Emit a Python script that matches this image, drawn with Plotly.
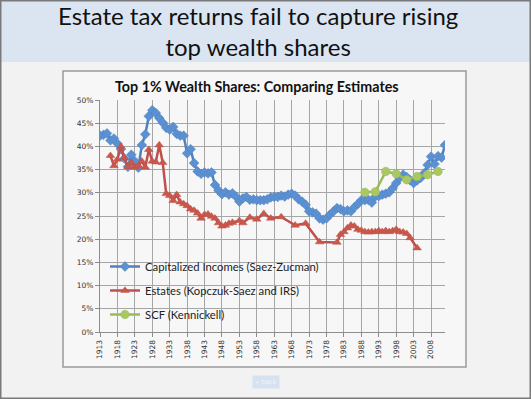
import plotly.graph_objects as go

# ---------------- data ----------------
blue_years = list(range(1913, 2013))
blue_vals = [
    42.3, 42.5, 42.8, 41.3, 41.7, 40.6, 39.4, 37.4, 35.6, 38.2,   # 1913-1922
    36.8, 35.4, 40.3, 42.6, 46.5, 47.8, 47.2, 46.1, 45.1, 44.0,   # 1923-1932
    43.6, 44.2, 42.7, 42.3, 42.3, 38.5, 39.4, 36.4, 34.6, 34.1,   # 1933-1942
    34.4, 34.2, 34.4, 31.7, 30.5, 29.7, 30.1, 29.6, 29.9, 29.2,   # 1943-1952
    28.1, 28.8, 29.1, 28.5, 28.6, 28.4, 28.4, 28.4, 28.6, 29.0,   # 1953-1962
    29.1, 29.1, 29.4, 29.2, 29.6, 29.8, 29.4, 28.6, 28.1, 27.4,   # 1963-1972
    26.0, 25.8, 25.5, 24.5, 24.2, 24.5, 25.3, 26.0, 26.7, 26.5,   # 1973-1982
    26.0, 26.2, 26.0, 26.9, 27.6, 28.4, 28.4, 28.5, 27.9, 29.2,   # 1983-1992
    29.3, 29.6, 29.8, 30.1, 31.0, 32.1, 33.2, 33.9, 33.4, 32.7,   # 1993-2002
    32.1, 32.7, 33.2, 34.2, 36.0, 37.8, 36.2, 37.9, 37.6, 40.3,   # 2003-2012
]

red_years = [
    1916, 1917, 1918, 1919, 1920, 1921, 1922, 1923, 1924, 1925,
    1926, 1927, 1928, 1929, 1930, 1931, 1932, 1933, 1934, 1935,
    1936, 1937, 1938, 1939, 1940, 1941, 1942, 1943, 1944, 1945,
    1946, 1947, 1948, 1949, 1950, 1951, 1953, 1954, 1956, 1958,
    1960, 1962, 1965, 1969, 1972, 1976, 1981, 1982, 1983, 1984,
    1985, 1986, 1987, 1988, 1989, 1990, 1991, 1992, 1993, 1994,
    1995, 1996, 1997, 1998, 1999, 2000, 2001, 2002, 2004,
]
red_vals = [
    38.0, 35.8, 37.2, 40.0, 37.5, 35.6, 36.5, 35.5, 35.8, 36.8,
    35.5, 39.3, 36.8, 36.6, 40.3, 36.5, 29.8, 29.4, 28.3, 29.6,
    28.0, 27.6, 27.2, 26.5, 26.2, 25.6, 24.5, 25.3, 25.4, 24.9,
    24.5, 23.5, 22.8, 23.0, 23.4, 23.6, 24.0, 23.5, 24.7, 24.3,
    25.5, 24.5, 24.8, 23.0, 23.4, 19.4, 19.3, 21.0, 21.6, 22.4,
    23.0, 22.8, 22.1, 21.9, 21.6, 21.5, 21.6, 21.6, 21.8, 21.6,
    21.8, 21.6, 21.8, 22.1, 21.6, 21.5, 21.2, 20.3, 18.1,
]

green_years = [1989, 1992, 1995, 1998, 2001, 2004, 2007, 2010]
green_vals = [30.1, 30.2, 34.6, 34.1, 32.8, 33.5, 33.9, 34.6]

x_tick_years = list(range(1913, 2009, 5))
x_tick_text = [str(y) for y in x_tick_years]
y_tick_vals = list(range(0, 51, 5))
y_tick_text = [f"{v}%" for v in y_tick_vals]

series_names = [
    "Capitalized Incomes (Saez-Zucman)",
    "Estates (Kopczuk-Saez and IRS)",
    "SCF (Kennickell)",
]

title_lines = ["Estate tax returns fail to capture rising", "top wealth shares"]
chart_title = "Top 1% Wealth Shares: Comparing Estimates"

# ---------------- layout geometry ----------------
W, H = 531, 399
L, R, T, B = 100, 86, 100, 67
PW, PH = W - L - R, H - T - B


def px(x):
    return (x - L) / PW


def py(y):
    return (H - B - y) / PH


BLUE = "#4f81bd"
RED = "#c0504d"
GREEN = "#9bbb59"

fig = go.Figure()
fig.add_trace(go.Scatter(
    x=blue_years, y=blue_vals, name=series_names[0], mode="lines+markers",
    line=dict(color=BLUE, width=2.5),
    marker=dict(symbol="diamond", size=7.5, color="#5b91d2", line=dict(color=BLUE, width=0.5)),
    legendgroup="a",
))
fig.add_trace(go.Scatter(
    x=red_years, y=red_vals, name=series_names[1], mode="lines+markers",
    line=dict(color=RED, width=2.5),
    marker=dict(symbol="triangle-up", size=7.5, color="#c9574a", line=dict(color=RED, width=0.5)),
    legendgroup="b",
))
fig.add_trace(go.Scatter(
    x=green_years, y=green_vals, name=series_names[2], mode="lines+markers",
    line=dict(color=GREEN, width=2.5),
    marker=dict(symbol="circle", size=8.5, color="#aac862", line=dict(color=GREEN, width=0.5)),
    legendgroup="c",
))

shapes = [
    # slide header band
    dict(type="rect", xref="paper", yref="paper", x0=px(0), x1=px(W), y0=py(62), y1=py(0),
         fillcolor="#dbe5f1", line=dict(width=0), layer="below"),
    # chart box
    dict(type="rect", xref="paper", yref="paper", x0=px(63), x1=px(466), y0=py(367), y1=py(71),
         fillcolor="#f7f7f7", line=dict(color="#9a9a9a", width=1.5), layer="below"),
    # slide frame
    dict(type="rect", xref="paper", yref="paper", x0=px(0.75), x1=px(530.25), y0=py(398.25), y1=py(0.75),
         fillcolor="rgba(0,0,0,0)", line=dict(color="#7a7a7a", width=1.5), layer="above"),
]

annotations = [
    dict(text="<br>".join(title_lines), xref="paper", yref="paper", x=px(258), y=py(31),
         xanchor="center", yanchor="middle", align="center", showarrow=False,
         font=dict(family="Lato", size=24, color="#111111")),
    dict(text=f"<b>{chart_title}</b>",
         xref="paper", yref="paper", x=px(257), y=py(86), xanchor="center", yanchor="middle",
         showarrow=False, font=dict(family="Lato", size=14.3, color="#111111")),
    dict(text="« back", xref="paper", yref="paper", x=px(265.5), y=py(382), xanchor="center",
         yanchor="middle", showarrow=False, bgcolor="#d6e2f2", borderpad=2,
         font=dict(family="DejaVu Sans", size=6.5, color="#eef3fa")),
]

fig.update_layout(
    width=W, height=H, autosize=False,
    margin=dict(l=L, r=R, t=T, b=B, pad=0),
    paper_bgcolor="#f2f2f2", plot_bgcolor="#f7f7f7",
    shapes=shapes, annotations=annotations,
    showlegend=True,
    legend=dict(x=px(105), y=py(252), xanchor="left", yanchor="top",
                bgcolor="rgba(0,0,0,0)", font=dict(family="Lato", size=11.3, color="#222222"),
                traceorder="grouped", tracegroupgap=5, itemwidth=30),
    font=dict(family="Lato"),
)
fig.update_xaxes(
    range=[1913, 2012], tickmode="array", tickvals=x_tick_years, ticktext=x_tick_text,
    tickangle=-90, tickfont=dict(family="DejaVu Sans", size=7.5, color="#333333"),
    showgrid=True, gridcolor="#a6a6a6", gridwidth=1,
    showline=True, linecolor="#8c8c8c", linewidth=1, ticks="outside", ticklen=4,
    tickcolor="#8c8c8c", zeroline=False,
)
fig.update_yaxes(
    range=[0, 50], tickmode="array", tickvals=y_tick_vals, ticktext=y_tick_text,
    tickfont=dict(family="DejaVu Sans", size=7.5, color="#333333"),
    showgrid=True, gridcolor="#a6a6a6", gridwidth=1,
    showline=True, linecolor="#8c8c8c", linewidth=1, ticks="outside", ticklen=4,
    tickcolor="#8c8c8c", zeroline=False,
)

fig.write_html(
    "out.html",
    config={"displayModeBar": False},
    post_script="document.body.style.margin='0';document.body.style.overflow='hidden';",
)
